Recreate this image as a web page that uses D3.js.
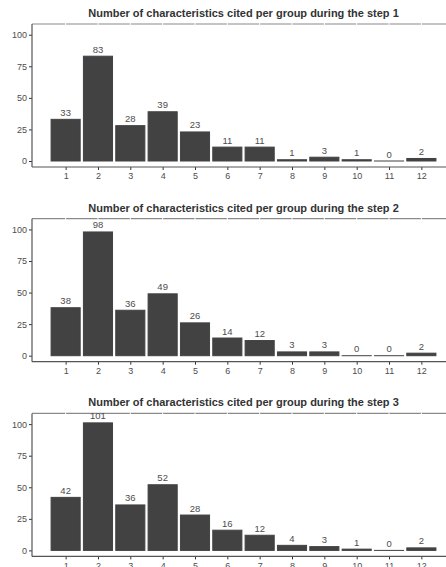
<!DOCTYPE html>
<html><head><meta charset="utf-8">
<script src="https://cdn.jsdelivr.net/npm/d3@7"></script>
<style>body{margin:0;background:#fff}svg{display:block}</style>
</head><body>
<script>
const categories = ["1","2","3","4","5","6","7","8","9","10","11","12"];
const step1 = [33,83,28,39,23,11,11,1,3,1,0,2];
const step2 = [38,98,36,49,26,14,12,3,3,0,0,2];
const step3 = [42,101,36,52,28,16,12,4,3,1,0,2];
const titles = [
  "Number of characteristics cited per group during the step 1",
  "Number of characteristics cited per group during the step 2",
  "Number of characteristics cited per group during the step 3"
];
const yTicks = [0,25,50,75,100];
const series = [step1, step2, step3];

const W = 446, H = 567;
const svg = d3.select("body").append("svg").attr("width", W).attr("height", H);
const font = "'Liberation Sans', Arial, Helvetica, sans-serif";
const barColor = "#424242";
const textColor = "#4d4d4d";

const x = d3.scaleLinear().domain([-0.04, 13.04]).range([32, 455]);
const step = x(2) - x(1);
const bw = step * 0.9;

series.forEach((vals, i) => {
  const y0 = 161 + 194.7 * i;
  const y = d3.scaleLinear().domain([-4.75, 108.5]).range([y0 + 6, y0 - 137]);
  const g = svg.append("g");
  const top = y(108.5), bottom = y(-4.75);

  // title
  g.append("text").attr("x", 243.5).attr("y", top - 7)
    .attr("text-anchor", "middle").attr("font-family", font)
    .attr("font-size", 11).attr("font-weight", "bold").attr("fill", "#333")
    .text(titles[i]);

  // top border
  g.append("line").attr("x1", 32).attr("x2", 455).attr("y1", top).attr("y2", top)
    .attr("stroke", "#8a8a8a").attr("stroke-width", 1.2);
  // white vertical gridlines crossing border
  g.selectAll(".grid").data(categories).enter().append("line")
    .attr("x1", (d, j) => x(j + 1)).attr("x2", (d, j) => x(j + 1))
    .attr("y1", top - 1).attr("y2", bottom)
    .attr("stroke", "#fff").attr("stroke-width", 1);

  // bars
  g.selectAll(".bar").data(vals).enter().append("rect")
    .attr("x", (d, j) => x(j + 1) - bw / 2)
    .attr("width", bw)
    .attr("y", d => y(d))
    .attr("height", d => Math.max(y(0) - y(d), 0.01))
    .attr("fill", barColor).attr("stroke", barColor).attr("stroke-width", 1);

  // value labels
  g.selectAll(".lab").data(vals).enter().append("text")
    .attr("x", (d, j) => x(j + 1)).attr("y", d => y(d) - 3.5)
    .attr("text-anchor", "middle").attr("font-family", font)
    .attr("font-size", 9.5).attr("fill", textColor)
    .text(d => d);

  // y axis
  const yAxis = d3.axisLeft(y).tickValues(yTicks).tickSize(3).tickPadding(2);
  const ya = g.append("g").attr("transform", "translate(32,0)").call(yAxis);
  ya.select(".domain").remove();
  ya.selectAll("line").attr("stroke", "#333");
  ya.selectAll("text").attr("font-family", font).attr("font-size", 9).attr("fill", textColor);
  g.append("line").attr("x1", 32).attr("x2", 32).attr("y1", top).attr("y2", bottom)
    .attr("stroke", "#555").attr("stroke-width", 1.2);

  // x axis
  const xAxis = d3.axisBottom(x).tickValues(d3.range(1, 13)).tickFormat(d => categories[d - 1]).tickSize(3).tickPadding(3);
  const xa = g.append("g").attr("transform", `translate(0,${bottom})`).call(xAxis);
  xa.select(".domain").remove();
  xa.selectAll("line").attr("stroke", "#333");
  xa.selectAll("text").attr("font-family", font).attr("font-size", 9).attr("fill", textColor);
  g.append("line").attr("x1", 32).attr("x2", 455).attr("y1", bottom).attr("y2", bottom)
    .attr("stroke", "#555").attr("stroke-width", 1.2);
});
</script>
</body></html>
